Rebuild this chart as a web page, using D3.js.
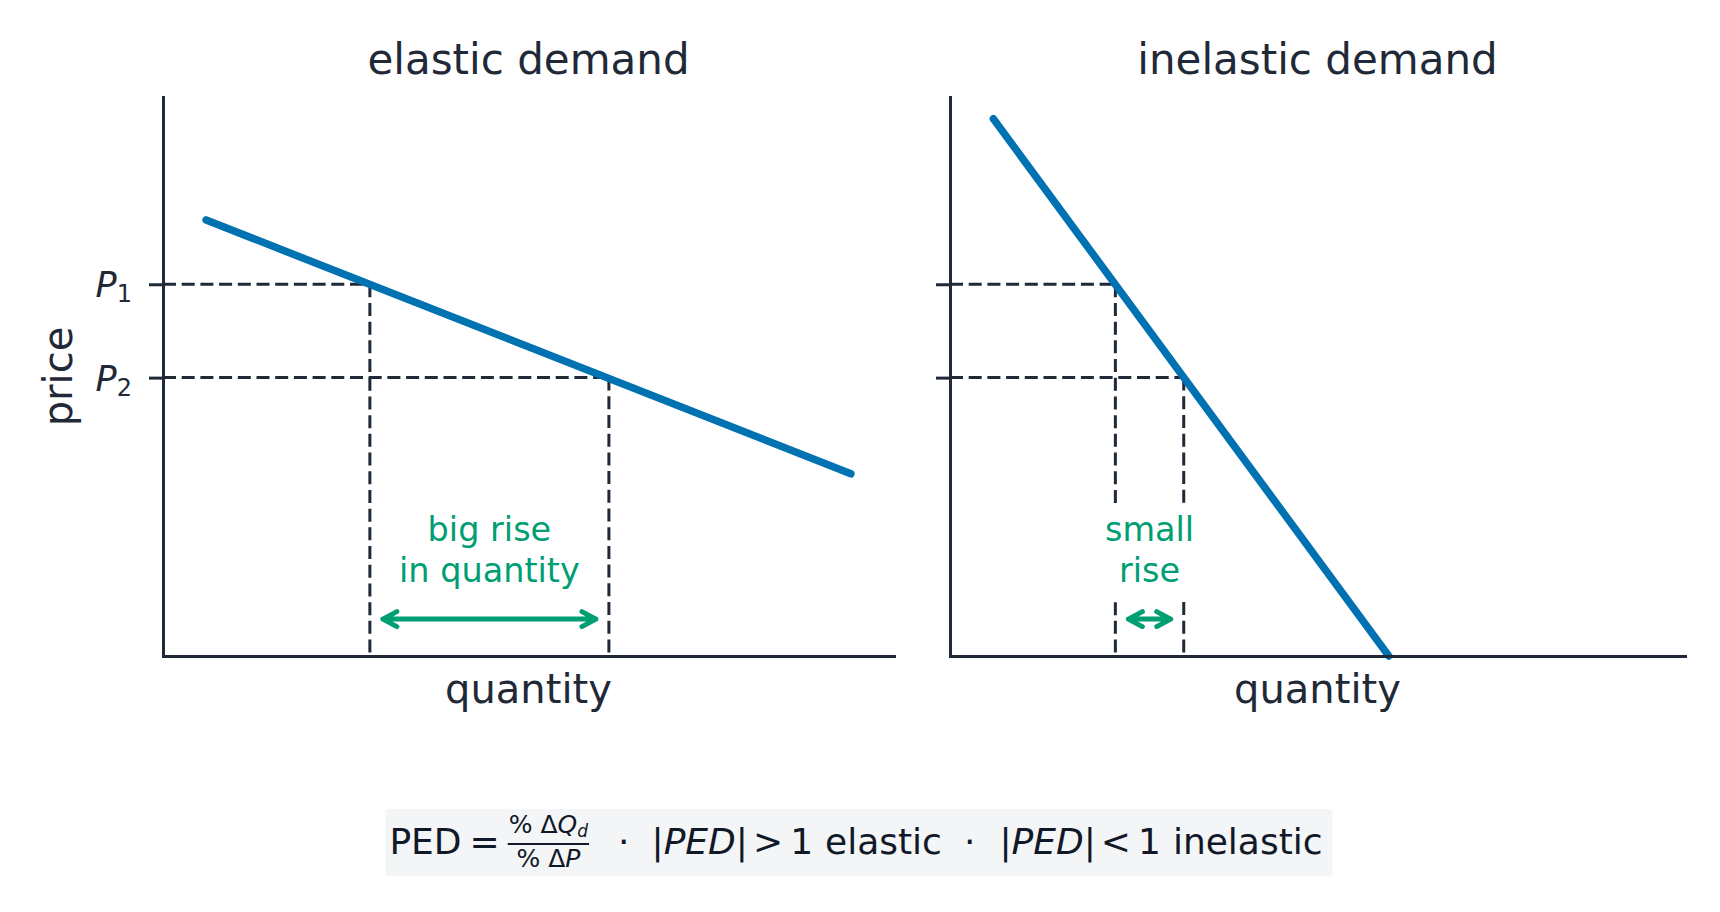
<!DOCTYPE html>
<html>
<head>
<meta charset="utf-8">
<script src="https://cdn.jsdelivr.net/npm/d3@7"></script>
<style>
  body { margin: 0; background: #fff; }
  text { font-family: "DejaVu Sans", sans-serif; }
</style>
</head>
<body>
<div id="chart"></div>
<script>
var WIDTH = 1720, HEIGHT = 912;

/* Data (both panels use a 0..10 price / quantity scale) */
var TITLES = ["elastic demand", "inelastic demand"];
var PRICE_LEVELS = [6.65, 4.98];          // P1, P2
var PRICE_NAMES = ["1", "2"];             // subscripts of P
var ELASTIC_LINE = [[0.59, 7.8], [9.41, 3.26]];
var INELASTIC_LINE = [[0.59, 9.61], [5.97, 0]];
var ELASTIC_QTY = [2.83, 6.1];            // Q at P1, Q at P2
var INELASTIC_QTY = [2.25, 3.18];
var NOTES = [["big rise", "in quantity"], ["small", "rise"]];
var ARROW_PRICE = 0.66;                   // height of the double arrows

/* Formula pieces: text, style, gap before it */
var FORMULA = [
    {t: "PED", s: "up", gap: 0},
    {t: "=", s: "up", gap: 8},
    {t: "frac", s: "frac", gap: 8},
    {t: "\u00b7", s: "up", gap: 29},
    {t: "|PED|", s: "it", gap: 22},
    {t: ">", s: "up", gap: 5},
    {t: "1", s: "up", gap: 7},
    {t: "elastic", s: "up", gap: 12},
    {t: "\u00b7", s: "up", gap: 22},
    {t: "|PED|", s: "it", gap: 24},
    {t: "<", s: "up", gap: 5},
    {t: "1", s: "up", gap: 7},
    {t: "inelastic", s: "up", gap: 12}
];

var INK = "#1f2937",
    BLUE = "#0072B2",
    GREEN = "#009E73";

var PANEL_X = [[163, 894], [950, 1685]],
    PLOT_Y = [656, 97];

var svg = d3.select("#chart")
    .append("svg")
        .attr("width", WIDTH)
        .attr("height", HEIGHT);

function drawPanel(i, curve, qty, note){
    var x = d3.scaleLinear().domain([0, 10]).range(PANEL_X[i]);
    var y = d3.scaleLinear().domain([0, 10]).range(PLOT_Y);
    var g = svg.append("g").attr("class", "panel");

    /* Dashed guides: axis -> curve, curve -> x axis */
    PRICE_LEVELS.forEach(function(p, k){
        g.append("path")
            .attr("d", "M" + x(0) + "," + y(p) + "H" + x(qty[k]))
            .attr("fill", "none")
            .attr("stroke", INK)
            .attr("stroke-width", 3)
            .attr("stroke-dasharray", "13,5.7");
        g.append("path")
            .attr("d", "M" + x(qty[k]) + "," + y(p) + "V" + y(0))
            .attr("fill", "none")
            .attr("stroke", INK)
            .attr("stroke-width", 3)
            .attr("stroke-dasharray", "13,5.7");
    });

    /* Note with white box behind it */
    var xm = (x(qty[0]) + x(qty[1])) / 2,
        ay = y(ARROW_PRICE);
    var box = g.append("rect").attr("fill", "#fff");
    var widths = [];
    note.forEach(function(line, k){
        var t = g.append("text")
            .attr("x", xm)
            .attr("y", ay - 78 + k * 41)
            .attr("text-anchor", "middle")
            .attr("font-size", 33.5)
            .attr("fill", GREEN)
            .text(line);
        widths.push(t.node().getComputedTextLength());
    });
    var bw = d3.max(widths) + 16;
    box.attr("x", xm - bw / 2)
        .attr("width", bw)
        .attr("y", ay - 78 - 38)
        .attr("height", 41 + 38 + 15);

    /* Demand curve */
    var line = d3.line()
        .x(function(d){ return x(d[0]); })
        .y(function(d){ return y(d[1]); });
    g.append("path")
        .attr("d", line(curve))
        .attr("fill", "none")
        .attr("stroke", BLUE)
        .attr("stroke-width", 7.5)
        .attr("stroke-linecap", "round");

    /* Axes */
    var xAxis = d3.axisBottom(x).tickValues([]).tickSizeOuter(0);
    var yAxis = d3.axisLeft(y).tickValues(PRICE_LEVELS).tickSizeInner(14).tickSizeOuter(0).tickFormat("");
    var gx = g.append("g").attr("transform", "translate(0," + y(0) + ")").call(xAxis);
    var gy = g.append("g").attr("transform", "translate(" + x(0) + ",0)").call(yAxis);
    [gx, gy].forEach(function(a){
        a.select(".domain").attr("stroke", INK).attr("stroke-width", 3).attr("stroke-linecap", "square");
        a.selectAll(".tick line").attr("stroke", INK).attr("stroke-width", 3);
    });

    /* Double arrow */
    var a = x(qty[0]) + 13, b = x(qty[1]) - 13, hd = 14, hw = 7.5;
    g.append("path")
        .attr("d", "M" + (a + hd) + "," + (ay - hw) + "L" + a + "," + ay + "L" + (a + hd) + "," + (ay + hw) +
                   "M" + a + "," + ay + "H" + b +
                   "M" + (b - hd) + "," + (ay - hw) + "L" + b + "," + ay + "L" + (b - hd) + "," + (ay + hw))
        .attr("fill", "none")
        .attr("stroke", GREEN)
        .attr("stroke-width", 5)
        .attr("stroke-linecap", "round")
        .attr("stroke-linejoin", "round");

    /* Titles */
    g.append("text")
        .attr("x", (PANEL_X[i][0] + PANEL_X[i][1]) / 2)
        .attr("y", 74)
        .attr("text-anchor", "middle")
        .attr("font-size", 42)
        .attr("fill", INK)
        .text(TITLES[i]);
    g.append("text")
        .attr("x", (PANEL_X[i][0] + PANEL_X[i][1]) / 2)
        .attr("y", 703)
        .attr("text-anchor", "middle")
        .attr("font-size", 40)
        .attr("fill", INK)
        .text("quantity");

    if (i === 0){
        g.append("text")
            .attr("transform", "translate(72," + (PLOT_Y[0] + PLOT_Y[1]) / 2 + ") rotate(-90)")
            .attr("text-anchor", "middle")
            .attr("font-size", 40)
            .attr("fill", INK)
            .text("price");
        PRICE_LEVELS.forEach(function(p, k){
            var t = g.append("text")
                .attr("x", 132)
                .attr("y", y(p) + 13)
                .attr("text-anchor", "end")
                .attr("font-size", 35)
                .attr("fill", INK);
            t.append("tspan").attr("font-style", "italic").text("P");
            t.append("tspan").attr("font-size", 24).attr("dy", 5).text(PRICE_NAMES[k]);
        });
    }
}

drawPanel(0, ELASTIC_LINE, ELASTIC_QTY, NOTES[0]);
drawPanel(1, INELASTIC_LINE, INELASTIC_QTY, NOTES[1]);

/* Formula strip */
var FS = 36, BASE = 854, TXT = "#111827";
var fbox = svg.append("rect").attr("rx", 4).attr("fill", "#f4f5f7");
var fg = svg.append("g");
var cx = 0;
FORMULA.forEach(function(p){
    cx += p.gap;
    if (p.s === "frac"){
        var num = fg.append("text").attr("y", BASE - 21).attr("font-size", 25).attr("fill", TXT).attr("text-anchor", "middle");
        num.append("tspan").text("% \u0394");
        num.append("tspan").attr("font-style", "italic").text("Q");
        num.append("tspan").attr("font-style", "italic").attr("font-size", 17).attr("dy", 4).text("d");
        var den = fg.append("text").attr("y", BASE + 13).attr("font-size", 25).attr("fill", TXT).attr("text-anchor", "middle");
        den.append("tspan").text("% \u0394");
        den.append("tspan").attr("font-style", "italic").text("P");
        var w = Math.max(num.node().getComputedTextLength(), den.node().getComputedTextLength()) + 2;
        num.attr("x", cx + w / 2);
        den.attr("x", cx + w / 2);
        fg.append("line")
            .attr("x1", cx).attr("x2", cx + w)
            .attr("y1", BASE - 10).attr("y2", BASE - 10)
            .attr("stroke", TXT).attr("stroke-width", 2);
        cx += w;
    } else {
        var t = fg.append("text")
            .attr("x", cx)
            .attr("y", BASE)
            .attr("font-size", FS)
            .attr("fill", TXT)
            .attr("font-style", p.s === "it" ? "italic" : null)
            .text(p.t);
        cx += t.node().getComputedTextLength();
    }
});
var boxW = cx + 14,
    boxX = 859 - boxW / 2;
fg.attr("transform", "translate(" + (boxX + 4) + ",0)");
fbox.attr("x", boxX).attr("y", 809).attr("width", boxW).attr("height", 67);
</script>
</body>
</html>
